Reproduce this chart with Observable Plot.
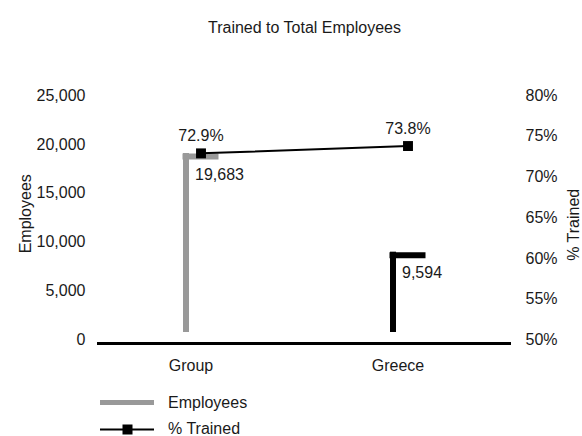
<!DOCTYPE html>
<html>
<head>
<meta charset="utf-8">
<script src="https://cdn.jsdelivr.net/npm/d3@7"></script>
<script src="https://cdn.jsdelivr.net/npm/@observablehq/plot@0.6"></script>
<style>
  html, body { margin: 0; padding: 0; background: #fff; }
  #wrap { position: relative; width: 582px; height: 436px; font-family: "Liberation Sans", Arial, sans-serif; color: #1a1a1a; overflow: hidden; }
  #legend { position: absolute; left: 0; top: 380px; width: 582px; height: 56px; }
</style>
</head>
<body>
<div id="wrap">
  <div id="chart"></div>
  <div id="legend">
    <svg width="582" height="56" style="position:absolute;left:0;top:0">
      <line x1="100" x2="154" y1="22.5" y2="22.5" stroke="#999999" stroke-width="5"></line>
      <line x1="100" x2="154" y1="49.5" y2="49.5" stroke="#000" stroke-width="2"></line>
      <rect x="122.5" y="44.5" width="10" height="10" fill="#000"></rect>
      <text x="168" y="22.5" dy="0.35em" font-size="16" fill="#1a1a1a" font-family="Liberation Sans, Arial, sans-serif">Employees</text>
      <text x="168" y="48" dy="0.35em" font-size="16" fill="#1a1a1a" font-family="Liberation Sans, Arial, sans-serif">% Trained</text>
    </svg>
  </div>
</div>
<script>
const categories = ["Group", "Greece"];
const employees = [19683, 9594];
const trainedPct = [72.9, 73.8];
const employeeTicks = [0, 5000, 10000, 15000, 20000, 25000];
const pctTicks = [50, 55, 60, 65, 70, 75, 80];
const barColors = ["#999999", "#000000"];

// map % Trained (50–80%) onto the employees axis (0–25,000)
const toEmp = p => (p - 50) / 30 * 25000;
const toPct = v => v / 25000 * 30 + 50;

const data = categories.map((c, i) => ({
  category: c,
  employees: employees[i],
  pct: trainedPct[i],
  pctY: toEmp(trainedPct[i])
}));

const fmt = d3.format(",");

const chart = Plot.plot({
  width: 582,
  height: 380,
  marginTop: 95,
  marginBottom: 40.5,
  marginLeft: 97,
  marginRight: 71,
  style: { fontFamily: "Liberation Sans, Arial, sans-serif", fontSize: "16px", color: "#1a1a1a", background: "#fff" },
  x: { type: "band", domain: categories, padding: 0, label: null },
  y: { domain: [0, 25000], label: null },
  color: { domain: categories, range: barColors },
  marks: [
    Plot.axisX({ tickSize: 0, tickPadding: 20, dx: -10, label: null }),
    Plot.axisY({ ticks: employeeTicks, tickSize: 0, tickPadding: 12, tickFormat: fmt, label: null }),
    Plot.axisY({ anchor: "right", ticks: pctTicks.map(toEmp), tickSize: 0, tickPadding: 14,
                 tickFormat: v => Math.round(toPct(v)) + "%", label: null }),
    Plot.text(["Trained to Total Employees"], { frameAnchor: "top", lineAnchor: "middle", textAnchor: "middle", dy: -67.5, fontSize: 16 }),
    Plot.text(["Employees"], { frameAnchor: "left", lineAnchor: "middle", textAnchor: "middle", rotate: -90, dx: -72, dy: -4, fontSize: 16 }),
    Plot.text(["% Trained"], { frameAnchor: "right", lineAnchor: "middle", textAnchor: "middle", rotate: -90, dx: 62, dy: 7, fontSize: 16 }),
    // bars: vertical left edge + top edge
    Plot.ruleX(data, { x: "category", y1: "employees", y2: 0, stroke: "category", strokeWidth: 6, dx: -15, insetTop: 6, insetBottom: 7.5 }),
    Plot.tickY(data, { x: "category", y: "employees", stroke: "category", strokeWidth: 6, dy: 9, insetLeft: 85.5, insetRight: 85.5 }),
    Plot.text(data, { x: "category", y: "employees", text: d => fmt(d.employees), textAnchor: "start", dx: -6, dy: 27, fontSize: 16 }),
    // baseline
    Plot.ruleY([0], { strokeWidth: 3, dy: 3.5, stroke: "#000" }),
    // % Trained line
    Plot.line(data, { x: "category", y: "pctY", stroke: "#000", strokeWidth: 2 }),
    Plot.dot(data, { x: "category", y: "pctY", symbol: "square", r: 5.6, fill: "#000", stroke: "none" }),
    Plot.text(data, { x: "category", y: "pctY", text: d => d.pct.toFixed(1) + "%", dy: -17, fontSize: 16 })
  ]
});
document.getElementById("chart").appendChild(chart);
</script>
</body>
</html>
